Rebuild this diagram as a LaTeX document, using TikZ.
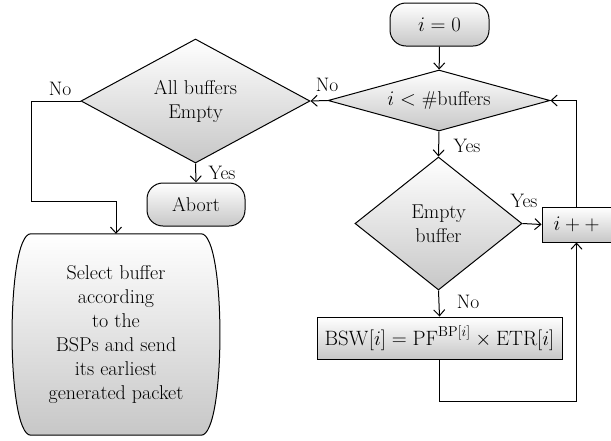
\documentclass[tikz,border=0pt]{standalone}
\usetikzlibrary{shapes.geometric,arrows.meta,backgrounds}

\begin{document}
\begin{tikzpicture}[x=1pt,y=-1pt,
  font=\fontsize{20}{24}\selectfont,
  every node/.style={inner sep=0pt},
  fill grad/.style={top color=white,bottom color=black!22},
  line/.style={line width=1pt},
  arr/.style={line,-{Straight Barb[length=6pt,width=11pt]}},
  decision/.style={diamond,draw,line,fill grad,align=center},
  terminal/.style={draw,line,fill grad,rounded corners=16pt},
  process/.style={draw,line,fill grad,align=center},
  lbl/.style={font=\fontsize{19.5}{20}\selectfont}]
\useasboundingbox (0,0) rectangle (611,440);

\node[terminal,minimum width=99pt,minimum height=43pt] (start) at (439.5,24.5) {$i = 0$};
\node[decision,minimum width=222pt,minimum height=61pt,aspect=3.6] (cond) at (439,100.5) {$i <$ \#buffers};
\node[decision,minimum width=229pt,minimum height=124pt,aspect=1.85] (allempty) at (195.5,101) {All buffers\\Empty};
\node[terminal,minimum width=98pt,minimum height=43pt] (abort) at (196,204.5) {Abort};
\node[align=center,minimum width=220pt,minimum height=201pt] (select) at (116,334.5)
  {Select buffer\\according\\to the\\BSPs and send\\its earliest\\generated packet};
\node[decision,minimum width=167pt,minimum height=133pt,aspect=1.25] (emptybuf) at (438.5,223.5) {Empty\\buffer};
\node[process,minimum width=69pt,minimum height=35pt] (inc) at (576.5,224.5) {$i++$};
\node[process,minimum width=245pt,minimum height=42pt] (bsw) at (439.5,338)
  {$\mathrm{BSW}[i] = \mathrm{PF}^{\mathrm{BP}[i]} \times \mathrm{ETR}[i]$};

\begin{scope}[on background layer]
\path[draw,line,fill grad] ([xshift=25pt]select.north west) -- ([xshift=-25pt]select.north east)
  .. controls (select.north east) and (select.south east) .. ([xshift=-25pt]select.south east)
  -- ([xshift=25pt]select.south west)
  .. controls (select.south west) and (select.north west) .. cycle;
\end{scope}

\node[lbl] (nocond) at (327,85) {No};
\node[lbl] (noall) at (60,89) {No};
\node[lbl] (yesall) at (222,173) {Yes};
\node[lbl] (yescond) at (467,145.5) {Yes};
\node[lbl] (yesbuf) at (524,201) {Yes};
\node[lbl] (nobuf) at (468,301.5) {No};

\draw[arr] (start) -- (cond);
\draw[arr] (cond.west) -- (allempty.east);
\draw[arr] (allempty.south) -- (abort.north);
\draw[arr] (allempty.west) -- ++(-49,0) -- ++(0,100) -| (select.north);
\draw[arr] (cond.south) -- (emptybuf.north);
\draw[arr] (emptybuf.east) -- (inc.west);
\draw[arr] (emptybuf.south) -- (bsw.north);
\draw[arr] (bsw.south) -- ++(0,42) -| (inc.south);
\draw[arr] (inc.north) |- (cond.east);
\end{tikzpicture}
\end{document}
